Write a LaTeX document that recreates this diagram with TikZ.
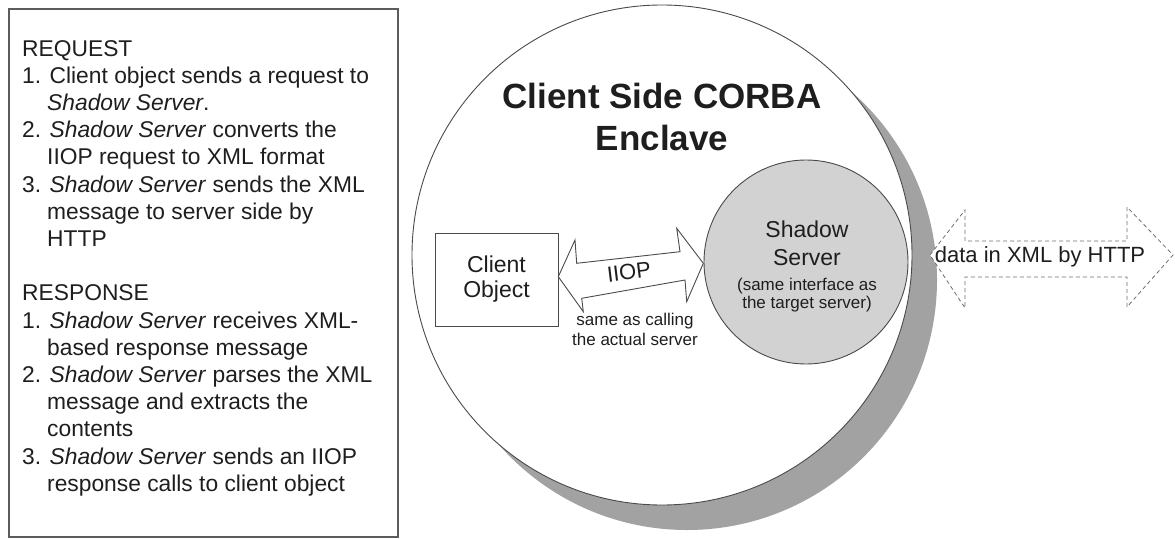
\documentclass[tikz,border=0pt]{standalone}
\usepackage{fontspec}
\setmainfont{Liberation Sans}
\definecolor{ink}{HTML}{1E1E1E}
\definecolor{edge}{HTML}{4A4A4A}
\definecolor{shade}{HTML}{A2A2A2}
\definecolor{lightshade}{HTML}{D2D2D2}
\begin{document}
\begin{tikzpicture}[x=1pt,y=-1pt,
  txt/.style={inner sep=0pt, text=ink, align=center},
  outline/.style={draw=edge, line width=0.9pt},
  bigtext/.style={font=\fontsize{22.8}{27.2}\selectfont},
  midtext/.style={font=\fontsize{23}{25}\selectfont},
  dasharrow/.style={draw=edge!80, line width=0.8pt, dash pattern=on 4pt off 3pt, fill=white}
]
\useasboundingbox (0,0) rectangle (1175,538);

% left description box
\draw[draw=edge!90, line width=1.2pt] (9,9) rectangle (398,537);
\node[txt, align=left, anchor=north west, bigtext] (steps) at (22,40)
{REQUEST\\
1. Client object sends a request to\\
\hspace*{25pt}\textit{Shadow Server}.\\
2. \textit{Shadow Server} converts the\\
\hspace*{25pt}IIOP request to XML format\\
3. \textit{Shadow Server} sends the XML\\
\hspace*{25pt}message to server side by\\
\hspace*{25pt}HTTP\\[27.2pt]
RESPONSE\\
1. \textit{Shadow Server} receives XML-\\
\hspace*{25pt}based response message\\
2. \textit{Shadow Server} parses the XML\\
\hspace*{25pt}message and extracts the\\
\hspace*{25pt}contents\\
3. \textit{Shadow Server} sends an IIOP\\
\hspace*{25pt}response calls to client object};

% enclave with its shadow
\node[circle, fill=shade, inner sep=0pt, outer sep=0pt, minimum size=500pt] (shadow) at (687,280) {};
\node[circle, fill=white, draw=edge, line width=0.9pt, inner sep=0pt, outer sep=0pt, minimum size=500pt] (enclave) at (662,255) {};
\node[txt, anchor=north, font=\bfseries\fontsize{35}{42}\selectfont] (title) at (662,83) {Client Side CORBA\\Enclave};

% shadow server
\node[circle, fill=lightshade, draw=edge, line width=0.9pt, inner sep=0pt, outer sep=0pt, minimum size=204pt] (shadowsrv) at (806,262) {};
\node[txt, anchor=north, font=\fontsize{23}{28}\selectfont] (srvname) at (807,220.5) {Shadow\\Server};
\node[txt, anchor=north, font=\fontsize{17}{18}\selectfont] (srvnote) at (807,277.8) {(same interface as\\the target server)};

% client object
\node[outline, txt, midtext, minimum width=123pt, minimum height=93pt] (client) at (496.5,279.5) {Client\\Object};

% IIOP double arrow
\coordinate (iiopL) at (558.3,276.7);
\coordinate (iiopR) at (703.3,263.3);
\draw[outline, fill=white, line join=miter]
  (iiopL) -- (575,240) -- (576.7,263.3) -- (680,251.7) -- (676.7,228.3) -- (iiopR)
  -- (686.7,301.7) -- (685,280) -- (581.7,298.3) -- (583.3,311.7) -- cycle;
\node[txt, rotate=7, font=\fontsize{22}{24}\selectfont] (iiop) at (629,272) {IIOP};
\node[txt, anchor=north, font=\fontsize{17}{20}\selectfont] (samecall) at (635,313) {same as calling\\the actual server};

% dashed HTTP double arrow
\coordinate (httpL) at (930,255);
\coordinate (httpR) at (1173,255);
\draw[dasharrow]
  (httpL) -- (965,210) -- (965,241) -- (1127,241) -- (1127,207) -- (httpR)
  -- (1127,307) -- (1127,277) -- (965,277) -- (965,308) -- cycle;
\node[txt, font=\fontsize{22}{25}\selectfont] (http) at (1040,257) {data in XML by HTTP};
\end{tikzpicture}
\end{document}
